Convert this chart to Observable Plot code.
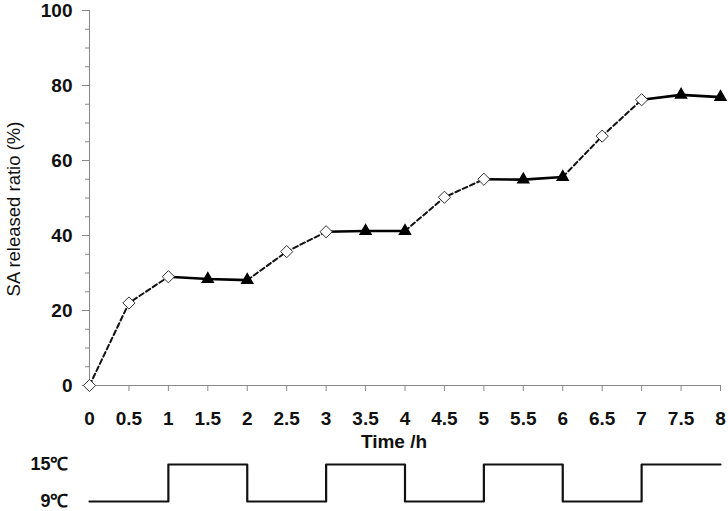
<!DOCTYPE html>
<html><head><meta charset="utf-8">
<script src="https://cdn.jsdelivr.net/npm/d3@7"></script>
<script src="https://cdn.jsdelivr.net/npm/@observablehq/plot@0.6"></script>
<style>body{margin:0;background:#fff;font-family:Arial,"Liberation Sans",sans-serif}#c svg{display:block}</style>
</head><body><div id="c"></div>
<script>
const times = [0,0.5,1,1.5,2,2.5,3,3.5,4,4.5,5,5.5,6,6.5,7,7.5,8];
const released = [0,22,29,28.4,28.1,35.7,41,41.2,41.2,50.2,55,54.9,55.6,66.5,76.2,77.5,76.9];
const markers = ["diamond","diamond","diamond","triangle","triangle","diamond","diamond","triangle","triangle","diamond","diamond","triangle","triangle","diamond","diamond","triangle","triangle"];
const xTicks = [0,0.5,1,1.5,2,2.5,3,3.5,4,4.5,5,5.5,6,6.5,7,7.5,8];
const yTicks = [0,20,40,60,80,100];
const tempTimes = [0,1,2,3,4,5,6,7,8];
const temps = [9,15,9,15,9,15,9,15,15];
const tempLabels = {15:"15℃", 9:"9℃"};

const pts = times.map((t,i)=>({t, v: released[i], m: markers[i]}));
// segments: dashed during [2k,2k+1], solid during [2k+1,2k+2]
const segs = [];
for (let h = 0; h < 8; h++) {
  pts.filter(p => p.t >= h && p.t <= h + 1).forEach(p => segs.push({...p, seg: h, dashed: h % 2 === 0}));
}
const W = 728, ML = 89, MR = 8;
const FONT = "Arial, 'Liberation Sans', sans-serif";
const main = Plot.plot({
  width: W, height: 448, marginLeft: ML, marginRight: MR, marginTop: 10, marginBottom: 63,
  x: {domain: [0, 8]},
  y: {domain: [0, 100]},
  style: {fontFamily: FONT, background: "#fff", overflow: "visible"},
  marks: [
    Plot.axisY({ticks: d3.range(0, 101, 5), tickSize: 4, tickFormat: () => "", stroke: "#888", label: null}),
    Plot.axisY({ticks: yTicks, tickSize: 7, tickPadding: 10, fontSize: 19, fontWeight: "bold", fill: "#111", stroke: "#888", label: null}),
    Plot.axisX({ticks: xTicks, tickSize: 6, tickPadding: 20, fontSize: 19, fontWeight: "bold", fill: "#111", stroke: "#888", tickFormat: d => String(d), label: null}),
    Plot.ruleX([0], {stroke: "#888"}),
    Plot.ruleY([0], {stroke: "#888"}),
    Plot.text(["Time /h"], {frameAnchor: "bottom", dx: -11, dy: 62, fontSize: 19, fontWeight: "bold", fill: "#111"}),
    Plot.text(["SA released ratio (%)"], {frameAnchor: "left", textAnchor: "middle", dx: -75, dy: 11, rotate: -90, fontSize: 18.5, fill: "#111"}),
    Plot.line(segs.filter(d => d.dashed), {x: "t", y: "v", z: "seg", stroke: "#111", strokeWidth: 2, strokeDasharray: "5,3"}),
    Plot.line(segs.filter(d => !d.dashed), {x: "t", y: "v", z: "seg", stroke: "#000", strokeWidth: 2.6}),
    Plot.dot(pts.filter(d => d.m === "triangle"), {x: "t", y: "v", symbol: "triangle", r: 5, fill: "#000", stroke: "none"}),
    Plot.dot(pts.filter(d => d.m === "diamond"), {x: "t", y: "v", symbol: "diamond2", r: 5.5, fill: "#fff", stroke: "#333", strokeWidth: 1})
  ]
});
const temp = Plot.plot({
  width: W, height: 63, marginLeft: ML, marginRight: MR, marginTop: 16, marginBottom: 10,
  x: {domain: [0, 8], axis: null},
  y: {domain: [9, 15]},
  style: {fontFamily: FONT, background: "#fff", overflow: "visible"},
  marks: [
    Plot.axisY({ticks: [9, 15], tickSize: 0, tickPadding: 21, fontSize: 18, fontWeight: "bold", fill: "#111", tickFormat: d => tempLabels[d], label: null}),
    Plot.line(tempTimes.map((t,i)=>({t, c: temps[i]})), {x: "t", y: "c", curve: "step-after", stroke: "#111", strokeWidth: 2.2})
  ]
});
document.getElementById("c").append(main, temp);
</script></body></html>
